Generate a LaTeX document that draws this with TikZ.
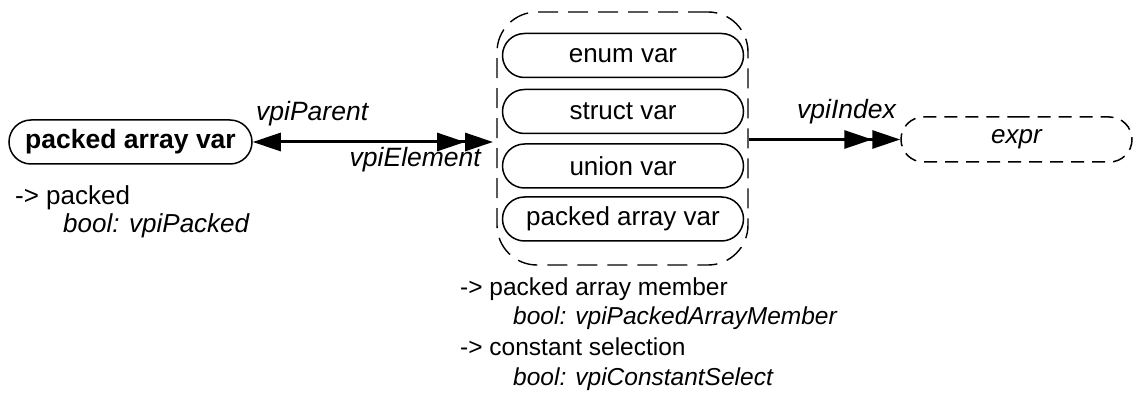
\documentclass[tikz,border=0pt]{standalone}
\usepackage{fontspec}
\setmainfont{Liberation Sans}
\usetikzlibrary{shapes.misc,arrows.meta}
\tikzset{
  obj/.style={rounded rectangle, draw, line width=1.5pt, inner sep=0pt, font=\fontsize{26}{30}\selectfont},
  grp/.style={draw, dashed, dash pattern=on 20pt off 10pt, line width=1.4pt, rounded corners=40pt, inner sep=0pt},
  lbl/.style={font=\fontsize{26.5}{30}\selectfont\itshape, inner sep=0pt, anchor=base west},
  txt/.style={font=\fontsize{26}{30}\selectfont, inner sep=0pt, anchor=base west},
  itxt/.style={font=\fontsize{26}{30}\selectfont\itshape, inner sep=0pt, anchor=base west},
  btxt/.style={font=\fontsize{24.5}{30}\selectfont, inner sep=0pt, anchor=base west},
  bitxt/.style={font=\fontsize{24.5}{30}\selectfont\itshape, inner sep=0pt, anchor=base west},
  mytip/.tip={Triangle[length=28pt,width=18pt]},
  conn/.style={line width=3pt}
}
\begin{document}
\begin{tikzpicture}[x=1pt,y=-1pt]
\useasboundingbox (0,0) rectangle (1133,414);
\node[obj, minimum width=243pt, minimum height=44pt, font=\fontsize{26.5}{30}\selectfont\bfseries] (pav) at (130.5,142) {packed array var};
\node[grp, minimum width=251pt, minimum height=253pt] (grp) at (622.5,138.5) {};
\node[obj, minimum width=241pt, minimum height=44pt] (en) at (623,55.5) {enum var};
\node[obj, minimum width=241pt, minimum height=44pt] (st) at (623,111.5) {struct var};
\node[obj, minimum width=241pt, minimum height=44pt] (un) at (623,166) {union var};
\node[obj, minimum width=241pt, minimum height=44pt] (pa) at (623,219) {packed array var};
\node[obj, dashed, dash pattern=on 13pt off 8pt, minimum width=231pt, minimum height=45pt, font=\fontsize{26}{30}\selectfont\itshape] (expr) at (1016.5,139.5) {expr};
\coordinate (gl) at (493,142);
\draw[conn, {mytip}-{mytip[]mytip}] (pav.east) -- (gl);
\draw[conn, -{mytip[]mytip}] (expr.west -| grp.east) -- (expr.west);
\node[lbl] (lp) at (256,121) {vpiParent};
\node[lbl, anchor=base east] (le) at (481,167) {vpiElement};
\node[lbl] (li) at (797,119) {vpiIndex};
\node[txt] (t1) at (15,205) {-> packed};
\node[itxt] (t2) at (63,233) {bool: vpiPacked};
\node[btxt] (t3) at (460,295) {-> packed array member};
\node[bitxt] (t4) at (513,324) {bool: vpiPackedArrayMember};
\node[btxt] (t5) at (460,355) {-> constant selection};
\node[bitxt] (t6) at (513,385) {bool: vpiConstantSelect};
\end{tikzpicture}
\end{document}
